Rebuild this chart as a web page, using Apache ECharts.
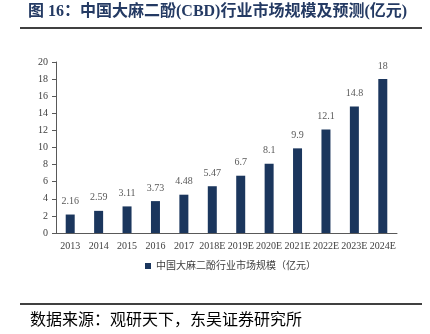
<!DOCTYPE html>
<html><head><meta charset="utf-8">
<script src="https://cdn.jsdelivr.net/npm/echarts@6/dist/echarts.min.js"></script>
<style>html,body{margin:0;padding:0;background:#fff}#c{width:430px;height:334px}</style>
</head><body><div id="c"></div>
<script>
var categories = ['2013','2014','2015','2016','2017','2018E','2019E','2020E','2021E','2022E','2023E','2024E'];
var values = [2.16, 2.59, 3.11, 3.73, 4.48, 5.47, 6.7, 8.1, 9.9, 12.1, 14.8, 18];
var seriesName = '中国大麻二酚行业市场规模（亿元）';
var titleText = '图 16：中国大麻二酚(CBD)行业市场规模及预测(亿元)';
var sourceText = '数据来源：观研天下，东吴证券研究所';
var serif = '"Liberation Serif","DejaVu Serif","Noto Sans CJK SC",serif';
var chart = echarts.init(document.getElementById('c'));
chart.setOption({
  animation: false,
  backgroundColor: '#fff',
  grid: {left: 56, right: 33, top: 62, bottom: 101},
  legend: {
    data: [seriesName], bottom: 58, left: 140,
    itemWidth: 6, itemHeight: 6, icon: 'rect', itemGap: 5,
    textStyle: {fontSize: 10, color: '#404040', fontFamily: serif}
  },
  xAxis: {
    type: 'category', data: categories,
    axisLine: {lineStyle: {color: '#595959'}},
    axisTick: {show: false},
    axisLabel: {fontSize: 10, color: '#404040', fontFamily: serif, interval: 0, margin: 8}
  },
  yAxis: {
    type: 'value', min: 0, max: 20, interval: 2,
    axisLine: {show: true, lineStyle: {color: '#595959'}},
    axisTick: {show: true, inside: false, length: 4, lineStyle: {color: '#595959'}},
    splitLine: {show: false},
    axisLabel: {fontSize: 10, color: '#404040', fontFamily: serif, margin: 8}
  },
  series: [{
    name: seriesName, type: 'bar', data: values, barWidth: 9,
    itemStyle: {color: '#1b365d'},
    label: {show: true, position: 'top', distance: 8, fontSize: 10, color: '#595959', fontFamily: serif}
  }],
  graphic: [
    {type: 'text', left: 28, top: 4, style: {text: titleText, fill: '#243a63', font: 'bold 16px "Liberation Serif","Noto Sans CJK SC",serif'}},
    {type: 'line', shape: {x1: 20, y1: 28, x2: 422, y2: 28}, style: {stroke: '#000', lineWidth: 1.5}},
    {type: 'line', shape: {x1: 20, y1: 304, x2: 422, y2: 304}, style: {stroke: '#000', lineWidth: 1.5}},
    {type: 'text', left: 30, top: 311, style: {text: sourceText, font: '16px "Noto Sans CJK SC",serif', fill: '#000'}}
  ]
});
</script></body></html>
